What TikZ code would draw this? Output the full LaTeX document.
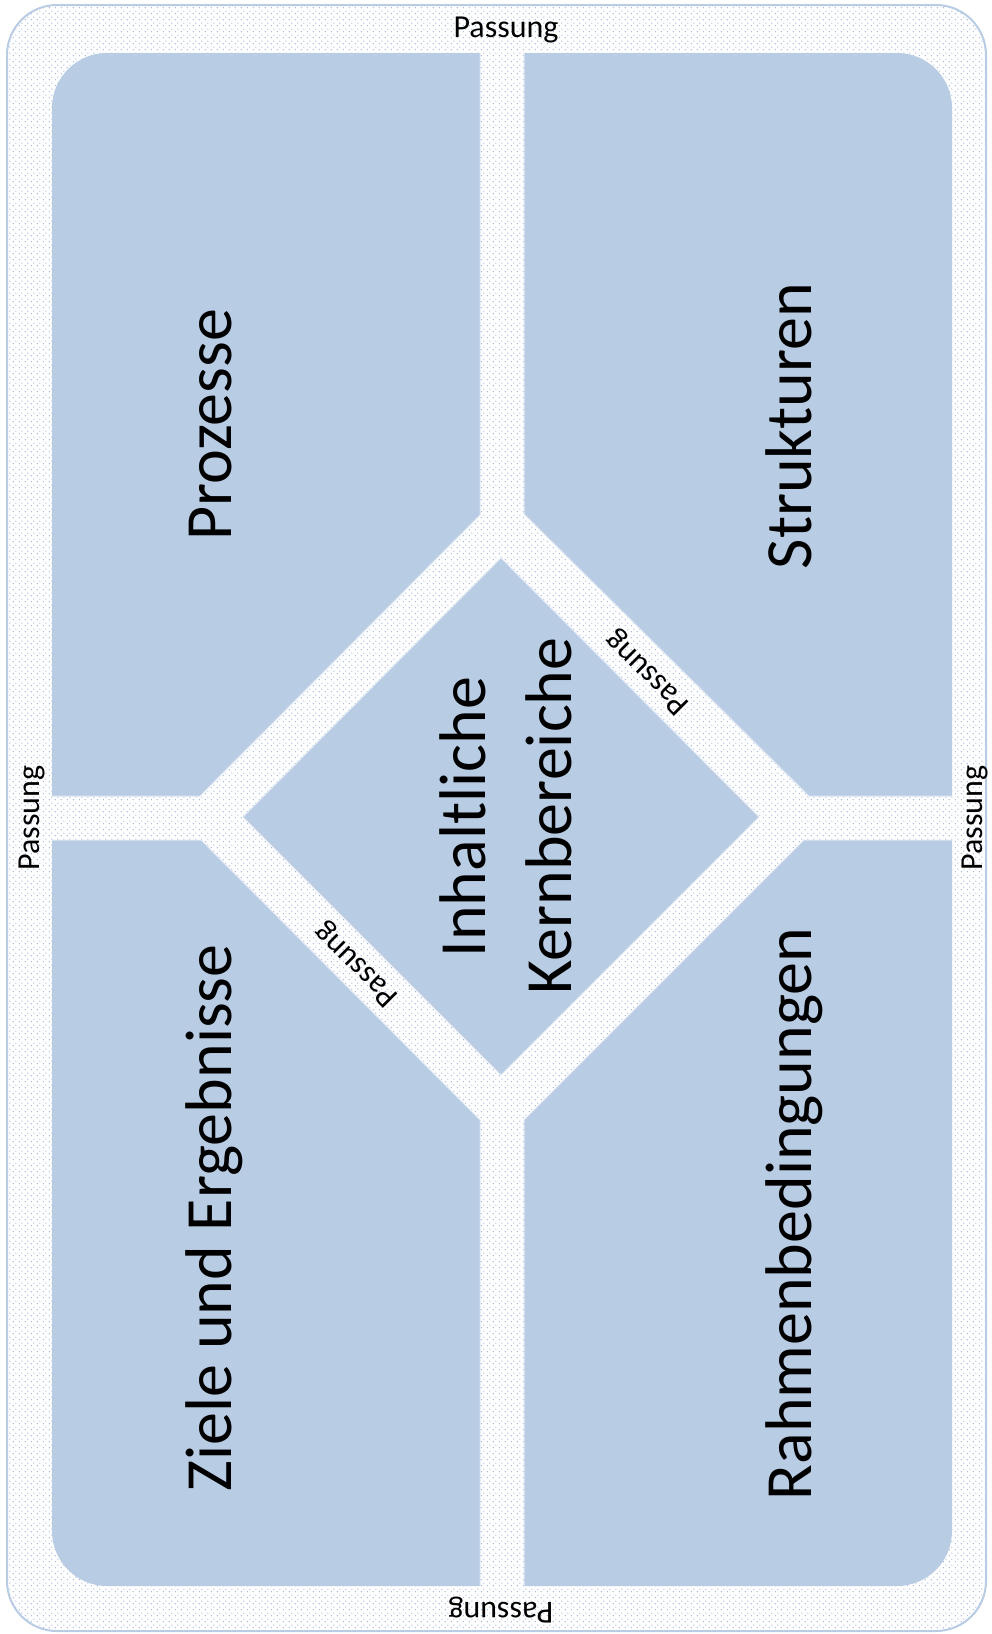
\documentclass[tikz,border=0pt]{standalone}
\usepackage{fontspec}
\setmainfont{Carlito}
\usetikzlibrary{patterns}
\pgfdeclarepatternformonly{passdots}{\pgfpointorigin}{\pgfpoint{6pt}{6pt}}{\pgfpoint{6pt}{6pt}}{%
  \pgfpathcircle{\pgfpoint{1.5pt}{1.5pt}}{0.8pt}%
  \pgfpathcircle{\pgfpoint{4.5pt}{4.5pt}}{0.8pt}%
  \pgfusepath{fill}}
\definecolor{panelblue}{HTML}{B8CCE4}
\definecolor{dotblue}{HTML}{A0B4DE}
\definecolor{rimblue}{HTML}{B8CCE4}
\begin{document}
\begin{tikzpicture}[x=1pt,y=-1pt,
  panel/.style={fill=panelblue, draw=white!55!panelblue, line width=1pt},
  bigtext/.style={font=\fontsize{66}{80}\selectfont, inner sep=0pt, text=black},
  smalltext/.style={font=\fontsize{32}{38}\selectfont, inner sep=0pt, text=black}]
\useasboundingbox (0,0) rectangle (992,1634);
% outer frame with dotted "Passung" ground
\fill[white, rounded corners=50pt] (7,5) rectangle (986,1631);
\fill[pattern=passdots, pattern color=dotblue, rounded corners=50pt] (7,5) rectangle (986,1631);
\draw[rimblue, line width=2pt, rounded corners=50pt] (7,5) rectangle (986,1631);
% four panels
\begin{scope}
\clip[rounded corners=55pt] (52,53) rectangle (952,1586);
\fill[panel] (480,-20) -- (480,515) -- (200,796) -- (-20,796) -- (-20,-20) -- cycle;
\fill[panel] (524,-20) -- (524,514) -- (809,796) -- (1012,796) -- (1012,-20) -- cycle;
\fill[panel] (480,1654) -- (480,1120) -- (201,840) -- (-20,840) -- (-20,1654) -- cycle;
\fill[panel] (524,1654) -- (524,1120) -- (804,840) -- (1012,840) -- (1012,1654) -- cycle;
\end{scope}
% centre diamond
\fill[panel] (501,558) -- (759,817) -- (501,1075) -- (243,817) -- cycle;
% big labels
\node[bigtext, rotate=90, anchor=base] (proz) at (231,425) {Prozesse};
\node[bigtext, rotate=90, anchor=base] (strk) at (811,426) {Strukturen};
\node[bigtext, rotate=90, anchor=base] (ziel) at (231,1218) {Ziele und Ergebnisse};
\node[bigtext, rotate=90, anchor=base] (rahm) at (811,1214) {Rahmenbedingungen};
\node[bigtext, rotate=90, anchor=base] (inh) at (485,817) {Inhaltliche};
\node[bigtext, rotate=90, anchor=base] (kern) at (571,816) {Kernbereiche};
% Passung labels
\node[smalltext, anchor=base] (ptop) at (506,37) {Passung};
\node[smalltext, rotate=90, anchor=base] (pleft) at (39,818) {Passung};
\node[smalltext, rotate=90, anchor=base] (pright) at (982,818) {Passung};
\node[smalltext, rotate=180, anchor=base] (pbot) at (501,1602) {Passung};
\node[smalltext, rotate=135] (pdiag1) at (648,672) {Passung};
\node[smalltext, rotate=135] (pdiag2) at (357,964) {Passung};
\end{tikzpicture}
\end{document}
